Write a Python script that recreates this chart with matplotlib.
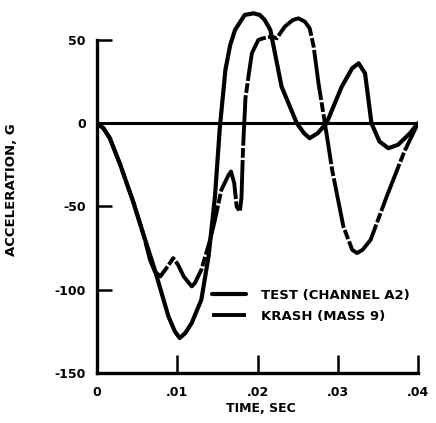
import matplotlib
matplotlib.use("Agg")
import matplotlib.pyplot as plt

# TEST (channel A2)
test_t = [0, 0.0008, 0.0016, 0.0029, 0.0045, 0.0058, 0.0072, 0.0089, 0.0097, 0.0103,
          0.0110, 0.0118, 0.0130, 0.0139, 0.0147, 0.0153, 0.0160, 0.0166, 0.0172,
          0.0184, 0.0195, 0.0203, 0.0209, 0.0216, 0.0230, 0.0249, 0.0258, 0.0265,
          0.0275, 0.0286, 0.0305, 0.0318, 0.0326, 0.0334, 0.0342, 0.0352, 0.0363,
          0.0375, 0.0390, 0.0400]
test_g = [0, -3, -9, -25, -47, -67, -88, -116, -125, -129,
          -126, -120, -106, -80, -44, -3, 32, 47, 56,
          65, 66, 65, 62, 56, 22, 0, -6, -9,
          -6, 0, 22, 33, 36, 30, 0, -11, -15,
          -13, -6, 0]

# KRASH (mass 9)
krash_t = [0, 0.0008, 0.0016, 0.0029, 0.0045, 0.0058, 0.0066, 0.0072, 0.0079, 0.0088,
           0.0095, 0.0101, 0.0108, 0.0118, 0.0122, 0.0130, 0.0141, 0.0147, 0.0155,
           0.0164, 0.0167, 0.0171, 0.0174, 0.0178, 0.0180, 0.0182, 0.0185, 0.0189,
           0.0193, 0.0201, 0.0207, 0.0218, 0.0224, 0.0234, 0.0244, 0.0251, 0.0259,
           0.0265, 0.0270, 0.0276, 0.0284, 0.0293, 0.0307, 0.0318, 0.0324, 0.0331,
           0.0341, 0.0361, 0.0383, 0.0400]
krash_g = [0, -3, -9, -25, -47, -67, -82, -89, -92, -86,
           -81, -85, -92, -98, -96, -88, -70, -58, -40,
           -31, -29, -36, -50, -53, -45, -15, 15, 29,
           42, 50, 51, 52, 51, 58, 62, 63, 61,
           57, 46, 24, 0, -28, -62, -76, -78, -76,
           -70, -44, -17, 0]

xticks = [0, 0.01, 0.02, 0.03, 0.04]
xtick_labels = ["0", ".01", ".02", ".03", ".04"]
yticks = [50, 0, -50, -100, -150]
ytick_labels = ["50", "0", "-50", "-100", "-150"]

plt.rcParams["font.family"] = "DejaVu Sans"
plt.rcParams["font.weight"] = "bold"

fig = plt.figure(figsize=(4.36, 4.23), dpi=100)
ax = fig.add_axes([97 / 436, 50 / 423, 321 / 436, 373 / 423])

ax.plot(test_t, test_g, color="black", lw=3.0, solid_joinstyle="round",
        solid_capstyle="round", label="TEST (CHANNEL A2)")
ax.plot(krash_t, krash_g, color="black", lw=2.8, linestyle=(0, (13, 0.6, 2.5, 0.6)),
        dash_joinstyle="round", label="KRASH (MASS 9)")
ax.plot([0, 0.04], [0, 0], color="black", lw=2.2)

ax.set_xlim(0, 0.04)
ax.set_ylim(-150, 74)
ax.spines["top"].set_visible(False)
ax.spines["right"].set_visible(False)
ax.spines["left"].set_bounds(-150, 50)
ax.spines["bottom"].set_bounds(0, 0.04)
for s in ("left", "bottom"):
    ax.spines[s].set_linewidth(2.4)

ax.set_xticks(xticks)
ax.set_xticklabels(xtick_labels)
ax.set_yticks(yticks)
ax.set_yticklabels(ytick_labels)
ax.tick_params(axis="x", direction="in", length=13, width=1.8, pad=9, labelsize=9)
ax.tick_params(axis="y", direction="in", length=11, width=1.8, pad=8, labelsize=9)

fig.text(12 / 436, 1 - 190 / 423, "ACCELERATION, G", rotation=90, ha="center",
         va="center", fontsize=9.5, fontweight="bold")
fig.text(261 / 436, 1 - 408 / 423, "TIME, SEC", ha="center", va="center",
         fontsize=9, fontweight="bold")

ax.legend(loc="center left", bbox_to_anchor=(212 / 436, 1 - 306 / 423),
          bbox_transform=fig.transFigure, frameon=False, fontsize=9.5,
          handlelength=2.6, handletextpad=1.1, labelspacing=0.6, borderpad=0,
          borderaxespad=0)

fig.savefig("out.png", dpi=100)
